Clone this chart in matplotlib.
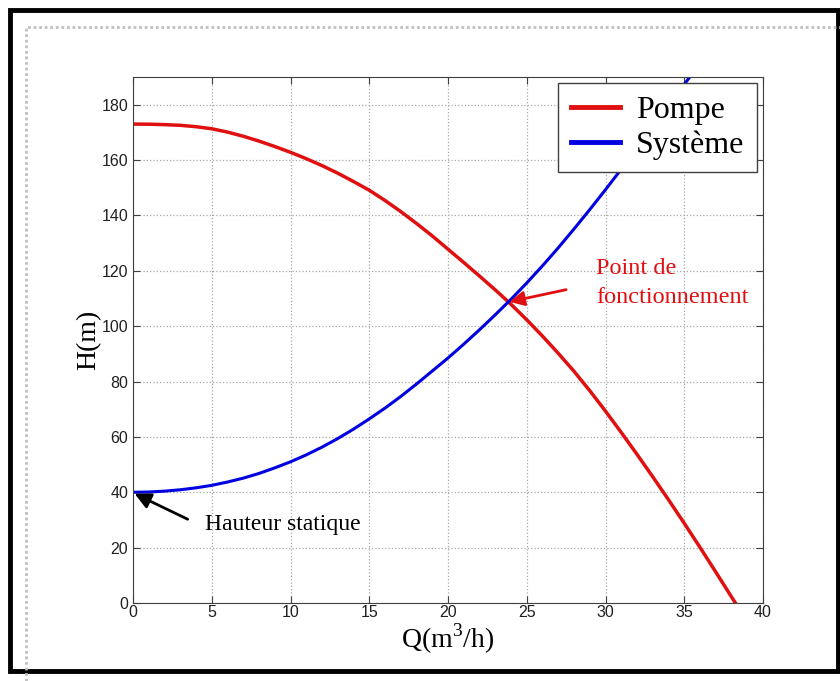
import matplotlib
matplotlib.use('Agg')
import matplotlib.pyplot as plt
from matplotlib.lines import Line2D

plt.rcParams['font.family'] = ['Liberation Sans', 'DejaVu Sans']
plt.rcParams['mathtext.fontset'] = 'custom'
plt.rcParams['mathtext.rm'] = 'Liberation Serif'

# valeurs (Q en m3/h, H en m)
q_pompe = [0, 1, 2, 3, 4, 5, 6, 7, 8, 9, 10, 11, 12, 13, 14, 15, 16, 17, 18, 19, 20,
           21, 22, 23, 24, 25, 26, 27, 28, 29, 30, 31, 32, 33, 34, 35, 36, 37, 38, 38.25]
h_pompe = [173.0, 172.95, 172.8, 172.55, 172.05, 171.3, 170.1, 168.6, 166.85, 164.9, 162.8,
           160.5, 158.0, 155.25, 152.25, 149.1, 145.4, 141.4, 137.1, 132.6, 127.8,
           123.0, 118.1, 113.1, 107.9, 102.3, 96.4, 90.2, 83.7, 76.7, 69.3,
           61.6, 53.7, 45.6, 37.3, 28.8, 20.1, 11.2, 2.2, 0.0]

q_syst = [0, 1, 2, 3, 4, 5, 6, 7, 8, 9, 10, 11, 12, 13, 14, 15, 16, 17, 18, 19, 20,
          21, 22, 23, 24, 25, 26, 27, 28, 29, 30, 31, 32, 33, 34, 35, 35.35]
h_syst = [40.0, 40.1, 40.4, 40.9, 41.6, 42.5, 43.7, 45.1, 46.8, 48.8, 51.0,
          53.5, 56.3, 59.4, 62.8, 66.5, 70.4, 74.6, 79.1, 83.8, 88.5,
          93.5, 98.7, 104.1, 109.7, 115.6, 121.8, 128.3, 135.1, 142.1, 149.3,
          156.7, 164.2, 171.8, 179.5, 187.3, 190.0]

x_ticks = [0, 5, 10, 15, 20, 25, 30, 35, 40]
y_ticks = [0, 20, 40, 60, 80, 100, 120, 140, 160, 180]

serif = 'Liberation Serif'
rouge = '#e01010'
bleu = '#0000e0'

fig = plt.figure(figsize=(8.4, 6.81), dpi=100)

# cadres autour de la figure
fig.add_artist(Line2D([26 / 840, 26 / 840, 1.0], [0.0, 1 - 27 / 681, 1 - 27 / 681],
                      transform=fig.transFigure, color='#c0c0c0', lw=2, ls=(0, (1, 1))))
fig.add_artist(plt.Rectangle((10 / 840, 1 - 671 / 681), 828 / 840, 661 / 681,
                             transform=fig.transFigure, fill=False, ec='black', lw=3.5))

ax = fig.add_axes([133 / 840, 1 - 603 / 681, 630 / 840, 526 / 681])

ax.plot(q_pompe, h_pompe, color=rouge, lw=2.5, label='Pompe')
ax.plot(q_syst, h_syst, color=bleu, lw=2.2, label='Système')

ax.set_xlim(0, 40)
ax.set_ylim(0, 190)
ax.set_xticks(x_ticks)
ax.set_yticks(y_ticks)
ax.grid(True, ls=':', color='#a8a8a8', lw=0.9)
ax.tick_params(direction='in', length=5, top=True, right=True, labelsize=11.5,
               color='#404040', labelcolor='#202020')
ax.tick_params(axis='x', pad=1.5)
for sp in ax.spines.values():
    sp.set_color('#404040')

ax.set_xlabel('Q(m$^3$/h)', family=serif, fontsize=20, labelpad=1)
ax.set_ylabel('H(m)', family=serif, fontsize=20, labelpad=0)

leg = ax.legend(loc='upper right', prop={'family': serif, 'size': 23}, fancybox=False,
                framealpha=1, edgecolor='#404040', handlelength=1.55, borderaxespad=0.2,
                borderpad=0.38, labelspacing=0.18, handletextpad=0.5)
for ln in leg.get_lines():
    ln.set_linewidth(3.5)

ax.annotate('Hauteur statique', xy=(0.1, 39.5), xytext=(4.6, 28.3),
            family=serif, fontsize=17, va='center', ha='left',
            arrowprops=dict(arrowstyle='-|>', color='black', lw=2, mutation_scale=24,
                            shrinkA=12, shrinkB=0, relpos=(0, 0.35)))
ax.annotate('Point de\nfonctionnement', xy=(23.9, 108.8), xytext=(29.4, 115.5),
            family=serif, fontsize=17.5, va='center', ha='left', color=rouge,
            linespacing=1.5,
            arrowprops=dict(arrowstyle='-|>', color=rouge, lw=2, mutation_scale=22,
                            shrinkA=20, shrinkB=0, relpos=(0, 0.5)))

fig.savefig('out.png', dpi=100)
